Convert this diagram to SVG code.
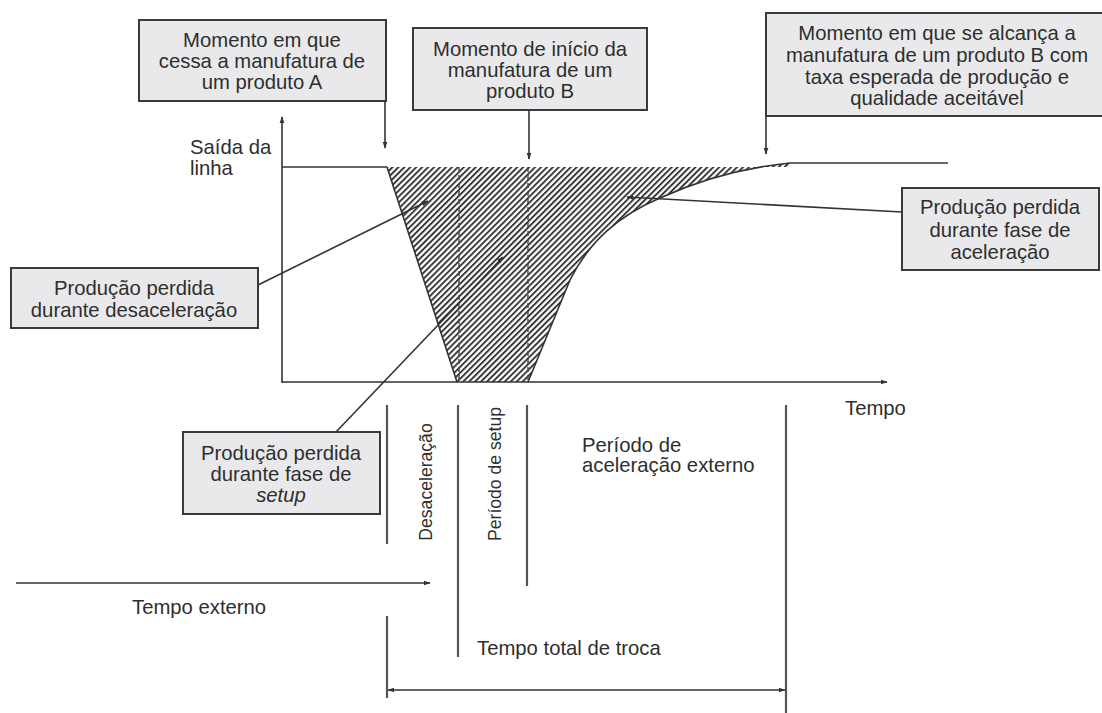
<svg xmlns="http://www.w3.org/2000/svg" width="1102" height="713" viewBox="0 0 1102 713">
<style>
.box{fill:#e9e9eb;stroke:#3a3a3a;stroke-width:2}
.t{font-family:"Liberation Sans",Arial,sans-serif;font-size:20.3px;fill:#2e2e2e}
.r{font-size:17.6px}
.c{text-anchor:middle}
.ln{stroke:#333;stroke-width:1.6;fill:none}
.vl{stroke:#555;stroke-width:2.2;fill:none}
.dash{stroke:#444;stroke-width:1.4;stroke-dasharray:5 3;fill:none}
</style>
<defs>
<marker id="ah" viewBox="0 0 10 10" refX="9" refY="5" markerWidth="7" markerHeight="7" orient="auto-start-reverse" markerUnits="userSpaceOnUse">
<path d="M0,1.5 L10,5 L0,8.5 z" fill="#333"/>
</marker>
<pattern id="hatch" patternUnits="userSpaceOnUse" width="4.2" height="4.2" patternTransform="rotate(45)">
<rect width="4.2" height="4.2" fill="#fff"/>
<line x1="1" y1="0" x2="1" y2="4.2" stroke="#2a2a2a" stroke-width="1.8"/>
</pattern>
</defs>

<g id="chart">
<path d="M387,167 L457,382 L528,382 L570,280 C590,240 620,215 660,198 C700,180 740,168 790,163 L790,167 Z" fill="url(#hatch)"/>
<line class="ln" x1="387" y1="167" x2="457" y2="382"/>
<path class="ln" d="M528,382 L570,280 C590,240 620,215 660,198 C700,180 740,168 790,163"/>
<line class="dash" x1="459" y1="167" x2="459" y2="382"/>
<line class="dash" x1="528" y1="167" x2="528" y2="382"/>
<line class="ln" x1="282" y1="167" x2="387" y2="167"/>
<line class="ln" x1="790" y1="163" x2="948" y2="163"/>
<line class="ln" x1="282" y1="383" x2="282" y2="117" marker-end="url(#ah)"/>
<line class="ln" x1="282" y1="382" x2="887" y2="382" marker-end="url(#ah)"/>
<text class="t" x="190" y="154">Saída da</text>
<text class="t" x="190" y="175">linha</text>
<text class="t" x="845" y="415">Tempo</text>
</g>

<g id="box-a">
<rect class="box" x="139" y="20" width="247" height="81"/>
<text class="t c" x="262" y="47">Momento em que</text>
<text class="t c" x="262" y="68">cessa a manufatura de</text>
<text class="t c" x="262" y="89">um produto A</text>
</g>

<g id="box-b">
<rect class="box" x="413" y="28" width="234" height="82"/>
<text class="t c" x="530" y="56">Momento de início da</text>
<text class="t c" x="530" y="77">manufatura de um</text>
<text class="t c" x="530" y="98">produto B</text>
</g>

<g id="box-c">
<rect class="box" x="766" y="13" width="342" height="103"/>
<text class="t c" x="937" y="40">Momento em que se alcança a</text>
<text class="t c" x="937" y="62">manufatura de um produto B com</text>
<text class="t c" x="937" y="84">taxa esperada de produção e</text>
<text class="t c" x="937" y="105">qualidade aceitável</text>
</g>

<g id="box-desac">
<rect class="box" x="11" y="268" width="247" height="60"/>
<text class="t c" x="134" y="295">Produção perdida</text>
<text class="t c" x="134" y="317">durante desaceleração</text>
</g>

<g id="box-acel">
<rect class="box" x="902" y="188" width="197" height="82"/>
<text class="t c" x="1000" y="214">Produção perdida</text>
<text class="t c" x="1000" y="237">durante fase de</text>
<text class="t c" x="1000" y="259">aceleração</text>
</g>

<g id="box-setup">
<rect class="box" x="183" y="432" width="197" height="82"/>
<text class="t c" x="281" y="460">Produção perdida</text>
<text class="t c" x="281" y="481">durante fase de</text>
<text class="t c" x="281" y="502" font-style="italic">setup</text>
</g>

<g id="timeline">
<line class="vl" x1="387" y1="405" x2="387" y2="544"/>
<line class="vl" x1="387" y1="616" x2="387" y2="698"/>
<line class="vl" x1="458" y1="405" x2="458" y2="657"/>
<line class="vl" x1="527" y1="405" x2="527" y2="586"/>
<line class="vl" x1="786" y1="405" x2="786" y2="713"/>
<text class="t r c" transform="translate(432,482) rotate(-90)">Desaceleração</text>
<text class="t r c" transform="translate(501,474) rotate(-90)">Período de setup</text>
<text class="t" x="582" y="452">Período de</text>
<text class="t" x="582" y="472">aceleração externo</text>
<text class="t" x="132" y="614">Tempo externo</text>
<text class="t" x="477" y="655">Tempo total de troca</text>
</g>

<g id="connectors">
<line class="ln" x1="385" y1="101" x2="385" y2="148" marker-end="url(#ah)"/>
<line class="ln" x1="529" y1="110" x2="529" y2="159" marker-end="url(#ah)"/>
<line class="ln" x1="766" y1="116" x2="766" y2="154" marker-end="url(#ah)"/>
<line class="ln" x1="258" y1="285" x2="428" y2="201" marker-end="url(#ah)"/>
<line class="ln" x1="336" y1="432" x2="503" y2="257" marker-end="url(#ah)"/>
<line class="ln" x1="902" y1="212" x2="627" y2="197" marker-end="url(#ah)"/>
<line class="ln" x1="16" y1="583" x2="430" y2="583" marker-end="url(#ah)"/>
<line class="ln" x1="388" y1="690" x2="785" y2="690" marker-start="url(#ah)" marker-end="url(#ah)"/>
</g>
</svg>
